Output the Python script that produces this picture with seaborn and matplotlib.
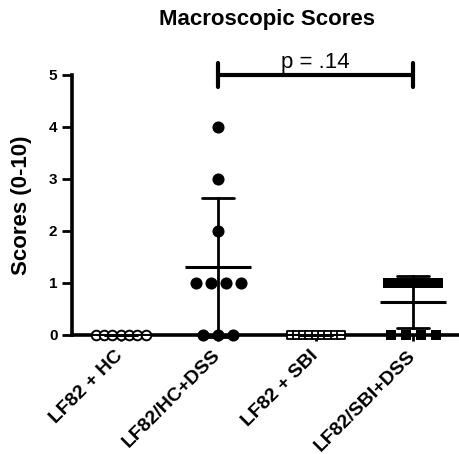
import matplotlib
matplotlib.use('Agg')
import matplotlib.pyplot as plt
import seaborn as sns
import pandas as pd

# data (individual scores per group)
groups = ['LF82 + HC', 'LF82/HC+DSS', 'LF82 + SBI', 'LF82/SBI+DSS']
scores_hc = [0, 0, 0, 0, 0, 0, 0]
scores_hc_dss = [4, 3, 2, 1, 1, 1, 1, 0, 0, 0]
scores_sbi = [0, 0, 0, 0, 0, 0, 0, 0, 0]
scores_sbi_dss = [1, 1, 1, 1, 1, 1, 1, 0, 0, 0, 0]
p_text = 'p = .14'
compare = ('LF82/HC+DSS', 'LF82/SBI+DSS')

all_scores = [scores_hc, scores_hc_dss, scores_sbi, scores_sbi_dss]
df = pd.DataFrame({
    'group': [g for g, s in zip(groups, all_scores) for _ in s],
    'gidx': [i for i, s in enumerate(all_scores) for _ in s],
    'score': [v for s in all_scores for v in s],
})

# spread tied points side by side (like a prism scatter dot plot)
max_step, max_span = 0.154, 0.513
df['rank'] = df.groupby(['gidx', 'score']).cumcount()
df['n'] = df.groupby(['gidx', 'score'])['score'].transform('size')
step = (max_span / (df['n'] - 1).clip(lower=1)).clip(upper=max_step)
df['pos'] = df['gidx'] + (df['rank'] - (df['n'] - 1) / 2) * step

sns.set_theme(style='ticks')
plt.rcParams['font.family'] = ['Liberation Sans', 'DejaVu Sans']
plt.rcParams['text.color'] = 'black'
plt.rcParams['axes.labelcolor'] = 'black'

fig = plt.figure(figsize=(4.6, 4.54), dpi=100)
ax = fig.add_axes([72 / 460, 119 / 454, 390 / 460, 260 / 454])

# marker style per group: (marker, face colour, area, edge width)
styles = [('o', 'white', 48, 1.4), ('o', 'black', 76, 0),
          ('s', 'white', 34, 1.3), ('s', 'black', 46, 0)]
for i, (marker, face, area, lw) in enumerate(styles):
    sub = df[df['gidx'] == i]
    sns.scatterplot(data=sub, x='pos', y='score', marker=marker, color=face,
                    edgecolor='black', linewidth=lw, s=area, ax=ax, zorder=4,
                    clip_on=False, legend=False)

# mean +/- SD
sns.pointplot(data=df, x='gidx', y='score', native_scale=True, errorbar='sd',
              capsize=0.33, color='black', marker='_', markersize=47,
              markeredgewidth=2.2, linestyle='none',
              err_kws={'linewidth': 2, 'clip_on': False}, ax=ax, zorder=5)

ax.set_xlim(-0.5, 3.5)
ax.set_ylim(0, 5)
ax.set_yticks(range(6))
ax.set_xlabel('')
ax.set_ylabel('Scores (0-10)', fontsize=16, fontweight='bold', labelpad=12)
sns.despine(ax=ax)
for s in ['left', 'bottom']:
    ax.spines[s].set_linewidth(2.6)
    ax.spines[s].set_color('black')
ax.tick_params(axis='y', length=7, width=2, labelsize=11, colors='black')
ax.tick_params(axis='x', length=4, width=2, labelsize=14, colors='black', pad=9)
for lbl in ax.get_yticklabels():
    lbl.set_fontweight('bold')
ax.set_xticks(range(len(groups)))
ax.set_xticklabels(groups, rotation=45, ha='right', va='center',
                   rotation_mode='anchor', fontweight='bold')

# significance bracket
x1, x2 = groups.index(compare[0]), groups.index(compare[1])
bracket_y = 5
ax.plot([x1, x2], [bracket_y, bracket_y], color='black', lw=3, clip_on=False)
for xx in (x1, x2):
    ax.plot([xx, xx], [bracket_y - 0.23, bracket_y + 0.23], color='black', lw=3,
            clip_on=False)
ax.text((x1 + x2) / 2, bracket_y + 0.13, p_text, ha='center', va='baseline',
        fontsize=16)

fig.text(267 / 460, 1 - 19 / 454, 'Macroscopic Scores', ha='center', va='center',
         fontsize=16, fontweight='bold')

fig.savefig('out.png', dpi=100)
